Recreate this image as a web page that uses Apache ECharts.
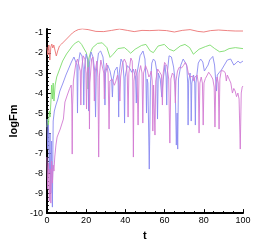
<!DOCTYPE html>
<html><head><meta charset="utf-8">
<script src="https://cdn.jsdelivr.net/npm/echarts@6/dist/echarts.min.js"></script>
<style>html,body{margin:0;padding:0;background:#fff}#c{width:277px;height:246px}</style>
</head><body><div id="c"></div>
<script>
const xTicks = [0, 20, 40, 60, 80, 100];
const yTicks = [-10, -9, -8, -7, -6, -5, -4, -3, -2, -1];

const redData = [[0,-1.7],[0.5,-2.1],[1,-1.6],[1.5,-2.35],[2,-1.7],[2.5,-1.55],[3,-1.75],[3.5,-1.6],[4,-1.65],[4.8,-2.15],[5.5,-1.9],[6.4,-1.65],[7.5,-1.55],[8.5,-1.47],[10,-1.3],[11.5,-1.15],[13,-1.0],[14.5,-0.9],[16,-0.83],[18,-0.79],[21,-0.83],[25,-0.92],[29,-0.93],[33,-0.87],[37,-0.8],[41,-0.87],[44.5,-0.93],[48.5,-0.87],[52.5,-0.88],[57,-0.86],[61,-0.88],[65,-0.95],[69,-0.87],[73,-0.83],[77,-0.92],[80,-0.95],[83.5,-0.88],[87.5,-0.85],[92,-0.88],[96,-0.9],[100,-0.9]];

const greenData = [[0,-5.7],[0.4,-5.3],[0.8,-5.6],[1.2,-4.9],[1.6,-5.2],[2,-4.5],[2.4,-3.6],[2.8,-4.3],[3.2,-3.5],[3.6,-4.4],[4.2,-3.6],[5,-3.2],[6.5,-2.8],[8,-2.4],[10,-2.05],[11.5,-1.85],[13,-1.65],[14.5,-1.5],[16.2,-1.41],[17.7,-1.57],[19,-1.8],[20.1,-1.98],[20.7,-2.3],[21.0,-3.8],[21.3,-2.3],[22.3,-1.95],[23.3,-1.73],[25.8,-1.52],[28.2,-1.49],[30.6,-1.73],[32.2,-2.22],[33.8,-2.06],[36.2,-1.78],[39.5,-1.73],[41,-1.85],[42.7,-2.01],[45,-1.81],[48.3,-1.62],[50.5,-1.57],[52.7,-1.9],[54.3,-1.98],[56.7,-1.65],[59.9,-1.57],[62.3,-1.81],[64.7,-1.9],[68,-1.65],[70.4,-1.57],[72.8,-1.73],[74.7,-2.06],[77.6,-1.81],[80.8,-1.68],[83.2,-1.6],[85.6,-1.78],[88.1,-1.94],[90.5,-1.9],[92.9,-1.78],[96.1,-1.73],[100,-1.78]];

const blueData = [[0,-5.3],[0.4,-6.8],[0.8,-5.6],[1.2,-8.0],[1.6,-6.0],[2.0,-9.0],[2.4,-6.4],[2.8,-9.7],[3.2,-5.4],[3.8,-4.9],[4.6,-4.6],[5.6,-4.3],[6.6,-3.9],[8.2,-3.5],[9.7,-3.1],[11,-2.8],[12.5,-2.45],[13.8,-2.2],[14.8,-2.15],[15.3,-2.6],[15.6,-5.0],[15.9,-2.6],[16.9,-1.98],[17.9,-2.15],[18.5,-2.8],[18.8,-4.6],[19.1,-2.8],[20.0,-2.05],[20.9,-2.4],[21.3,-4.9],[21.7,-2.5],[22.5,-1.95],[23.5,-2.2],[24.4,-2.9],[24.8,-5.2],[25.2,-2.9],[26.3,-2.0],[27.4,-1.9],[28.6,-2.2],[29.3,-2.9],[29.6,-4.6],[29.9,-3.0],[31,-2.6],[32.2,-2.9],[33,-3.3],[33.4,-4.2],[33.8,-3.3],[34.6,-2.88],[35.8,-2.7],[36.3,-3.2],[36.6,-5.2],[36.9,-3.0],[37.8,-2.3],[38.8,-2.5],[39.3,-3.3],[39.6,-5.5],[39.9,-3.2],[41,-2.63],[42.5,-2.8],[43.2,-2.96],[44,-2.8],[45.2,-3.2],[45.6,-4.5],[46,-3.0],[47.5,-2.14],[49,-1.9],[50,-2.3],[50.5,-3.3],[50.8,-5.0],[51.1,-3.3],[51.5,-3.5],[52.2,-7.8],[52.8,-3.5],[53.5,-2.5],[54.3,-2.3],[55.2,-2.4],[56.0,-2.9],[56.4,-5.3],[56.8,-3.0],[57.8,-3.3],[58.6,-4.2],[59.2,-3.4],[60.2,-2.6],[60.8,-3.2],[61.1,-4.6],[61.4,-3.0],[62.3,-2.14],[63.5,-2.2],[64.6,-2.7],[65.4,-3.4],[66.0,-6.6],[66.4,-5.0],[66.7,-6.8],[67.1,-3.3],[68.3,-2.6],[69.5,-2.3],[70.4,-2.27],[71.3,-2.6],[71.8,-3.5],[72.0,-5.6],[72.3,-3.4],[73.0,-3.0],[73.4,-3.6],[73.6,-5.4],[73.9,-3.5],[74.8,-3.1],[75.4,-3.5],[75.7,-5.6],[76.0,-3.5],[77.2,-2.5],[78.4,-2.3],[79.5,-2.45],[80.3,-2.9],[81.2,-2.85],[82.2,-2.6],[83,-2.35],[84.6,-2.17],[85.5,-2.6],[86.1,-3.4],[86.5,-3.9],[86.9,-3.1],[88,-2.96],[89,-2.85],[90.5,-2.6],[92,-2.35],[93.7,-2.3],[95.3,-2.6],[96.5,-2.5],[97.5,-2.4],[98.5,-2.5],[100,-2.4]];

const magentaData = [[0,-7.2],[0.4,-8.8],[0.8,-7.5],[1.2,-9.4],[1.6,-7.8],[2.0,-9.5],[2.4,-7.4],[2.8,-8.5],[3.2,-7.6],[3.6,-7.9],[4.0,-7.2],[4.6,-6.6],[5.2,-6.2],[6.8,-5.8],[8.4,-5.3],[9.2,-4.45],[10.4,-4.1],[11.6,-3.77],[12.4,-3.6],[12.7,-4.6],[12.9,-7.05],[13.1,-4.6],[13.5,-3.4],[14.2,-2.9],[14.8,-2.5],[15.6,-2.3],[16.4,-2.35],[17.0,-2.9],[17.3,-4.6],[17.6,-2.9],[18.5,-2.14],[19.4,-2.3],[19.9,-3.0],[20.2,-4.8],[20.5,-3.0],[21.1,-2.7],[21.5,-3.5],[21.7,-5.8],[21.9,-3.5],[22.8,-2.3],[23.4,-2.2],[23.9,-2.9],[24.2,-4.4],[24.5,-3.0],[25.5,-2.4],[26.0,-3.2],[26.4,-7.2],[26.8,-3.1],[27.5,-2.35],[28.5,-2.4],[29.0,-3.0],[29.3,-4.3],[29.6,-3.0],[30.4,-2.5],[31.2,-3.0],[31.7,-5.8],[32.1,-3.4],[33.2,-3.3],[34.4,-3.61],[35.2,-3.4],[36,-3.1],[36.8,-3.6],[37.2,-4.4],[37.6,-3.2],[38.6,-2.5],[39.5,-2.3],[40.4,-2.5],[41.0,-3.2],[41.4,-5.2],[41.8,-3.0],[42.8,-2.25],[43.5,-2.4],[43.8,-3.4],[44.1,-7.2],[44.4,-3.4],[45.2,-2.8],[46.0,-3.2],[46.5,-5.6],[47.0,-3.0],[47.8,-2.63],[48.5,-3.0],[48.9,-5.5],[49.3,-3.0],[50.3,-2.63],[51.3,-2.9],[52.0,-3.2],[52.6,-3.1],[53.2,-2.9],[53.7,-3.4],[54.0,-5.9],[54.4,-3.6],[54.8,-3.6],[55.1,-6.1],[55.5,-3.4],[56.5,-2.8],[57.4,-2.75],[58.4,-3.1],[58.9,-4.6],[59.3,-3.0],[60.0,-2.47],[61.2,-2.65],[62.1,-3.3],[62.7,-6.5],[63.2,-3.3],[64.0,-3.0],[64.7,-3.12],[65.2,-3.6],[65.5,-4.5],[65.8,-3.4],[66.6,-2.9],[67.5,-2.71],[68.6,-2.75],[69.6,-2.63],[70.6,-2.47],[71.5,-2.7],[72.2,-3.05],[73.2,-3.2],[74.3,-3.15],[75,-3.4],[75.5,-3.2],[76.6,-3.1],[77.2,-3.5],[77.6,-6.0],[78.0,-3.5],[78.7,-3.2],[79.3,-3.5],[79.7,-5.6],[80.1,-3.5],[80.8,-3.28],[81.8,-3.1],[82.5,-2.96],[83.5,-3.1],[84.6,-3.3],[85.3,-3.7],[85.7,-5.7],[86.1,-3.6],[86.8,-3.2],[87.4,-3.5],[87.8,-5.8],[88.2,-3.3],[88.9,-2.88],[90.2,-2.9],[91.0,-3.0],[91.5,-3.4],[92.0,-3.1],[92.8,-3.12],[93.8,-3.5],[94.6,-4.0],[95.3,-3.77],[96.0,-3.9],[96.7,-4.18],[97.4,-4.0],[98.0,-4.3],[98.6,-6.8],[99.1,-4.0],[99.6,-3.7],[100,-3.65]];

const chart = echarts.init(document.getElementById('c'), null, {renderer: 'canvas'});
const lineSeries = (data, color) => ({
  type: 'line', data: data, showSymbol: false, symbol: 'none', animation: false,
  lineStyle: {color: color, width: 0.9}
});
chart.setOption({
  animation: false,
  backgroundColor: '#fff',
  grid: {left: 36, right: 34, top: 29, bottom: 29, containLabel: false},
  xAxis: {
    type: 'value', min: 0, max: 100, interval: 20,
    name: 't', nameLocation: 'middle', nameGap: 10,
    nameTextStyle: {fontFamily: 'Liberation Sans', fontWeight: 'bold', fontSize: 11, color: '#000'},
    axisLine: {show: true, onZero: false, lineStyle: {color: '#000', width: 2}},
    axisTick: {show: true, inside: true, length: 4, lineStyle: {color: '#000', width: 1}},
    minorTick: {show: true, splitNumber: 4, length: 2, lineStyle: {color: '#000', width: 1}},
    axisLabel: {fontFamily: 'Liberation Sans', fontSize: 9, color: '#000', margin: 3,
      formatter: v => xTicks.includes(v) ? String(v) : ''},
    splitLine: {show: false}
  },
  yAxis: {
    type: 'value', min: -10, max: -0.8, interval: 1,
    name: 'logFm', nameLocation: 'middle', nameGap: 13, nameRotate: 90,
    nameTextStyle: {fontFamily: 'Liberation Sans', fontWeight: 'bold', fontSize: 11, color: '#000'},
    axisLine: {show: true, onZero: false, lineStyle: {color: '#000', width: 2}},
    axisTick: {show: true, inside: true, length: 4, lineStyle: {color: '#000', width: 1}},
    minorTick: {show: true, splitNumber: 5, length: 2, lineStyle: {color: '#000', width: 1}},
    axisLabel: {fontFamily: 'Liberation Sans', fontSize: 9, color: '#000', margin: 4, showMaxLabel: false,
      formatter: v => yTicks.includes(v) ? String(v) : ''},
    splitLine: {show: false}
  },
  series: [
    lineSeries(redData, '#ec7474'),
    lineSeries(greenData, '#7ddc6c'),
    lineSeries(blueData, '#8a8af0'),
    lineSeries(magentaData, '#d27ad2')
  ]
});
</script></body></html>
